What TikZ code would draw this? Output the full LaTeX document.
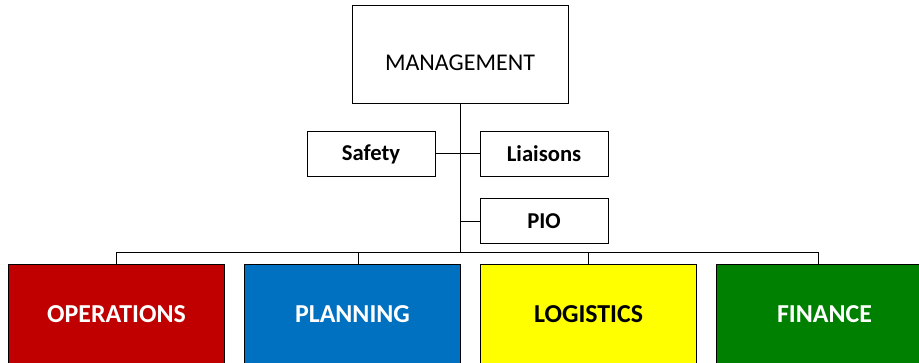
\documentclass[tikz,border=0pt]{standalone}
\usepackage{fontspec}
\setmainfont{Carlito}
\usepackage{tikz}
\usetikzlibrary{positioning}

\definecolor{opsred}{HTML}{C00000}
\definecolor{planblue}{HTML}{0070C0}
\definecolor{logyellow}{HTML}{FFFF00}
\definecolor{fingreen}{HTML}{008000}

\begin{document}
\begin{tikzpicture}[x=0.75pt, y=-0.75pt, line width=0.75pt] %ICS
           \tikzstyle{mainbox} = [rectangle, draw, minimum width=162pt, minimum height=73.5pt, text height=23pt, text centered, fill=white, font=\fontsize{18}{21}\selectfont]
           \tikzstyle{staffbox} = [rectangle, draw, minimum width=96pt, minimum height=33.75pt, text centered, fill=white, font=\fontsize{17}{20}\selectfont\bfseries]
           \tikzstyle{sectionbox} = [rectangle, draw, minimum width=162pt, minimum height=75pt, text centered, text=white, font=\fontsize{19.4}{22}\selectfont\bfseries]
           \useasboundingbox (0,0) rectangle (919,363);
           \clip (0,0) rectangle (919,363);
           \node[mainbox] (M) at (460,55) {MANAGEMENT};
           \node[staffbox] (S) at (371,154) {Safety};
           \node[staffbox, right=33pt of S] (L) {Liaisons};
           \node[staffbox, below=15.75pt of L] (P) {PIO};
           \node[sectionbox, fill=opsred] (B1) at (116.5,314) {OPERATIONS};
           \node[sectionbox, fill=planblue, right=14.25pt of B1] (B2) {PLANNING};
           \node[sectionbox, fill=logyellow, text=black, right=14.25pt of B2] (B3) {LOGISTICS};
           \node[sectionbox, fill=fingreen, right=14.25pt of B3] (B4) {FINANCE};
           \coordinate (bus) at (460,252);
           \draw (M.south) -- (bus);
           \draw (S.east) -- (L.west);
           \draw (P.west) -- (P.west -| M.south);
           \draw (B1.north |- bus) -- ([xshift=-4.5pt]B4.north |- bus);
           \foreach \i/\dx in {1/0,2/4.5,3/0,4/-4.5}
           {
				\draw ([xshift=\dx pt]B\i.north) -- ([xshift=\dx pt]B\i.north |- bus);
				}
        \end{tikzpicture}
\end{document}
